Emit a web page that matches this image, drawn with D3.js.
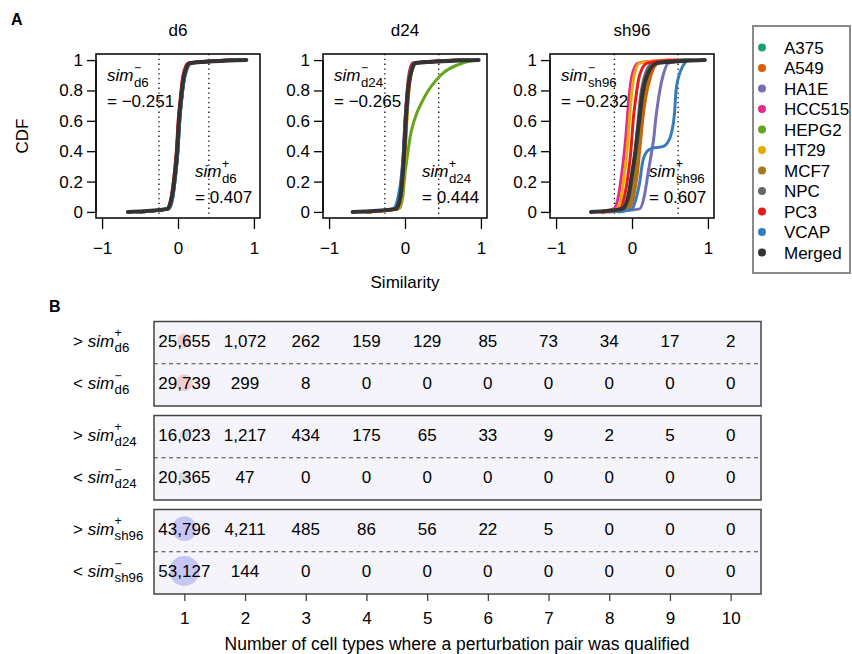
<!DOCTYPE html>
<html>
<head>
<meta charset="utf-8">
<script src="https://cdn.jsdelivr.net/npm/d3@7"></script>
<style>
  body { margin: 0; background: #fff; }
  svg { display: block; font-family: "Liberation Sans", Arial, sans-serif; }
</style>
</head>
<body>
<div id="chart"></div>
<script>
// ---- data ----
const cellTypes = ["A375", "A549", "HA1E", "HCC515", "HEPG2", "HT29", "MCF7", "NPC", "PC3", "VCAP", "Merged"];
const cellColors = ["#1b9e77", "#d95f02", "#7570b3", "#e7298a", "#66a61e", "#e6ab02", "#a6761d", "#666666", "#e41a1c", "#377eb8", "#333333"];

// CDF levels, and the similarity value reached at each level (one row per cell type)
const cdfLevels = [0, 0.02, 0.1, 0.25, 0.4, 0.5, 0.6, 0.75, 0.9, 0.98, 1];

const d6Quantiles = [
  [-0.55, -0.135, -0.075, -0.035, -0.007, 0.005, 0.017, 0.045, 0.085, 0.165, 0.8],
  [-0.5, -0.145, -0.085, -0.045, -0.017, -0.005, 0.007, 0.035, 0.075, 0.15, 0.75],
  [-0.5, -0.13, -0.07, -0.03, -0.002, 0.01, 0.022, 0.05, 0.09, 0.17, 0.8],
  [-0.5, -0.14, -0.08, -0.04, -0.012, 0.0, 0.012, 0.04, 0.08, 0.15, 0.7],
  [-0.5, -0.13, -0.075, -0.035, -0.007, 0.005, 0.017, 0.045, 0.09, 0.17, 0.8],
  [-0.5, -0.135, -0.08, -0.04, -0.012, 0.0, 0.012, 0.04, 0.08, 0.16, 0.8],
  [-0.5, -0.12, -0.07, -0.03, -0.002, 0.01, 0.022, 0.05, 0.09, 0.17, 0.8],
  [-0.55, -0.13, -0.07, -0.03, -0.002, 0.01, 0.023, 0.05, 0.095, 0.18, 0.85],
  [-0.5, -0.15, -0.09, -0.05, -0.022, -0.01, 0.002, 0.03, 0.065, 0.13, 0.7],
  [-0.5, -0.12, -0.065, -0.03, -0.002, 0.01, 0.022, 0.05, 0.09, 0.17, 0.8],
  [-0.66, -0.14, -0.08, -0.04, -0.012, 0.0, 0.012, 0.04, 0.08, 0.16, 0.9]
];

const d24Quantiles = [
  [-0.5, -0.11, -0.055, -0.025, -0.005, 0.005, 0.015, 0.035, 0.07, 0.14, 0.8],
  [-0.5, -0.1, -0.05, -0.02, 0.0, 0.01, 0.02, 0.04, 0.075, 0.14, 0.8],
  [-0.5, -0.11, -0.055, -0.025, -0.005, 0.005, 0.015, 0.035, 0.07, 0.14, 0.8],
  [-0.5, -0.12, -0.065, -0.035, -0.015, -0.005, 0.005, 0.025, 0.06, 0.12, 0.8],
  [-0.5, -0.08, -0.03, 0.0, 0.04, 0.07, 0.12, 0.25, 0.47, 0.76, 0.97],
  [-0.5, -0.09, -0.045, -0.015, 0.005, 0.015, 0.025, 0.045, 0.08, 0.15, 0.8],
  [-0.5, -0.1, -0.05, -0.02, 0.0, 0.01, 0.02, 0.04, 0.075, 0.14, 0.8],
  [-0.55, -0.12, -0.06, -0.03, -0.01, 0.0, 0.012, 0.035, 0.07, 0.14, 0.85],
  [-0.5, -0.12, -0.07, -0.04, -0.02, -0.01, 0.0, 0.02, 0.05, 0.1, 0.7],
  [-0.6, -0.16, -0.09, -0.045, -0.02, -0.01, 0.0, 0.025, 0.06, 0.12, 0.8],
  [-0.69, -0.12, -0.06, -0.03, -0.01, 0.0, 0.01, 0.03, 0.07, 0.14, 0.97]
];

const sh96Quantiles = [
  [-0.4, -0.09, -0.02, 0.03, 0.065, 0.08, 0.1, 0.13, 0.19, 0.29, 0.7],
  [-0.35, -0.05, 0.02, 0.07, 0.1, 0.12, 0.14, 0.18, 0.25, 0.35, 0.75],
  [-0.3, 0.1, 0.16, 0.21, 0.26, 0.29, 0.31, 0.35, 0.41, 0.48, 0.8],
  [-0.45, -0.24, -0.18, -0.135, -0.1, -0.08, -0.065, -0.04, 0.0, 0.08, 0.5],
  [-0.4, -0.08, -0.01, 0.04, 0.075, 0.09, 0.11, 0.14, 0.2, 0.3, 0.7],
  [-0.45, -0.2, -0.14, -0.1, -0.065, -0.05, -0.035, -0.01, 0.03, 0.1, 0.55],
  [-0.4, -0.07, 0.0, 0.05, 0.085, 0.1, 0.12, 0.15, 0.22, 0.32, 0.75],
  [-0.4, -0.11, -0.04, 0.01, 0.045, 0.06, 0.08, 0.11, 0.17, 0.27, 0.7],
  [-0.4, -0.16, -0.1, -0.05, -0.015, 0.0, 0.015, 0.05, 0.1, 0.2, 0.6],
  null, // VCAP has its own levels below
  [-0.54, -0.13, -0.05, 0.0, 0.045, 0.07, 0.095, 0.13, 0.2, 0.33, 0.96]
];

// VCAP at sh96 has a plateau, read with its own levels
const sh96VcapLevels = [0, 0.02, 0.1, 0.19, 0.33, 0.4, 0.42, 0.43, 0.45, 0.52, 0.65, 0.8, 0.9, 0.96, 1];
const sh96VcapX = [-0.17, 0.0, 0.06, 0.1, 0.14, 0.2, 0.27, 0.4, 0.46, 0.52, 0.56, 0.58, 0.62, 0.67, 0.72];

const timepoints = ["d6", "d24", "sh96"];
const simMinus = [-0.251, -0.265, -0.232];
const simPlus = [0.407, 0.444, 0.607];
const cdfTicksX = [-1, 0, 1];
const cdfTicksY = [0, 0.2, 0.4, 0.6, 0.8, 1];

// panel B: number of pairs qualified in n cell types
const nCellTypes = [1, 2, 3, 4, 5, 6, 7, 8, 9, 10];
const d6Above = [25655, 1072, 262, 159, 129, 85, 73, 34, 17, 2];
const d6Below = [29739, 299, 8, 0, 0, 0, 0, 0, 0, 0];
const d24Above = [16023, 1217, 434, 175, 65, 33, 9, 2, 5, 0];
const d24Below = [20365, 47, 0, 0, 0, 0, 0, 0, 0, 0];
const sh96Above = [43796, 4211, 485, 86, 56, 22, 5, 0, 0, 0];
const sh96Below = [53127, 144, 0, 0, 0, 0, 0, 0, 0, 0];
const bubbleColors = ["#f2cccc", "#d9d9dd", "#c6c6f5"];

// ---- drawing ----
const W = 852, H = 654;
const svg = d3.select("#chart").append("svg")
  .attr("width", W).attr("height", H);

// superscript/subscript label like  sim^+_d6
function simLabel(g, x, y, prefix, sign, sub, size) {
  const t = g.append("text").attr("x", x).attr("y", y)
    .style("font-size", size + "px");
  if (prefix) t.append("tspan").text(prefix);
  t.append("tspan").style("font-style", "italic").text("sim");
  const w = t.node().getComputedTextLength();
  g.append("text").attr("x", x + w + 0.5).attr("y", y - size * 0.55)
    .style("font-size", (size * 0.72) + "px").text(sign);
  g.append("text").attr("x", x + w + 0.5).attr("y", y + size * 0.33)
    .style("font-size", (size * 0.78) + "px").text(sub);
}

svg.append("text").attr("x", 11).attr("y", 25)
  .style("font-size", "16px").style("font-weight", "bold").text("A");

const panelLeft = [96, 323, 550];
const panelW = 164;
const panelTop = 54, panelBottom = 218;
const quantileSets = [d6Quantiles, d24Quantiles, sh96Quantiles];

const y = d3.scaleLinear().domain([-0.04, 1.04]).range([panelBottom, panelTop]);

timepoints.forEach((tp, pi) => {
  const left = panelLeft[pi];
  const x = d3.scaleLinear().domain([-1.08, 1.08]).range([left, left + panelW]);
  const g = svg.append("g");

  g.append("text").attr("x", x(0)).attr("y", 36)
    .attr("text-anchor", "middle").style("font-size", "17px").text(tp);

  // y axis
  const ya = g.append("g").attr("transform", `translate(${left},0)`)
    .call(d3.axisLeft(y).tickValues(cdfTicksY).tickFormat(d3.format("~g")).tickSize(9).tickPadding(4));
  ya.select(".domain").attr("d", `M0,${y(0)}V${y(1)}`).attr("stroke-width", 1.3);
  ya.selectAll(".tick line").attr("stroke-width", 1.3);
  ya.selectAll("text").style("font-size", "17px").attr("fill", "#000")
    .style("font-family", "Liberation Sans, Arial, sans-serif");

  // x axis
  const xa = g.append("g").attr("transform", `translate(0,${panelBottom})`)
    .call(d3.axisBottom(x).tickValues(cdfTicksX).tickFormat(d => d < 0 ? "\u2212" + Math.abs(d) : d).tickSize(11).tickPadding(13));
  xa.select(".domain").remove();
  xa.selectAll(".tick line").attr("stroke-width", 1.3);
  xa.selectAll("text").style("font-size", "17px").attr("fill", "#000")
    .style("font-family", "Liberation Sans, Arial, sans-serif");

  // thresholds
  [simMinus[pi], simPlus[pi]].forEach(v => {
    g.append("line").attr("x1", x(v)).attr("x2", x(v))
      .attr("y1", panelTop).attr("y2", panelBottom)
      .attr("stroke", "#000").attr("stroke-width", 1.3).attr("stroke-dasharray", "1.3,3.5");
  });

  // cdf curves
  const line = d3.line().x(d => x(d[0])).y(d => y(d[1])).curve(d3.curveMonotoneX);
  cellTypes.forEach((ct, ci) => {
    let pts;
    if (tp === "sh96" && ct === "VCAP") {
      pts = sh96VcapX.map((v, i) => [v, sh96VcapLevels[i]]);
    } else {
      pts = quantileSets[pi][ci].map((v, i) => [v, cdfLevels[i]]);
    }
    g.append("path").attr("d", line(pts))
      .attr("fill", "none").attr("stroke", cellColors[ci])
      .attr("stroke-width", ct === "Merged" ? 4 : 3)
      .attr("stroke-linecap", "round").attr("stroke-linejoin", "round");
  });

  // box
  g.append("rect").attr("x", left).attr("y", panelTop)
    .attr("width", panelW).attr("height", panelBottom - panelTop)
    .attr("fill", "none").attr("stroke", "#000").attr("stroke-width", 1.5);

  // annotations
  const fmt = d3.format(".3f");
  simLabel(g, left + 11, 81, "", "\u2212", tp, 17);
  g.append("text").attr("x", left + 11).attr("y", 107).style("font-size", "17px")
    .text("= " + fmt(simMinus[pi]).replace("-", "\u2212"));
  simLabel(g, left + panelW - 65, 177, "", "+", tp, 17);
  g.append("text").attr("x", left + panelW - 65).attr("y", 203).style("font-size", "17px")
    .text("= " + fmt(simPlus[pi]));
});

svg.append("text").attr("transform", "translate(28,136) rotate(-90)")
  .attr("text-anchor", "middle").style("font-size", "17px").text("CDF");
svg.append("text").attr("x", 405).attr("y", 288)
  .attr("text-anchor", "middle").style("font-size", "17px").text("Similarity");

// legend
const lg = svg.append("g");
lg.append("rect").attr("x", 753).attr("y", 26).attr("width", 97).attr("height", 247)
  .attr("fill", "#fff").attr("stroke", "#8a8a8a").attr("stroke-width", 2);
const ly = d3.scalePoint().domain(cellTypes).range([47.5, 252.5]);
cellTypes.forEach((ct, i) => {
  lg.append("circle").attr("cx", 762).attr("cy", ly(ct)).attr("r", 4).attr("fill", cellColors[i]);
  lg.append("text").attr("x", 784).attr("y", ly(ct) + 6).style("font-size", "17px").text(ct);
});

// ---- panel B ----
svg.append("text").attr("x", 49).attr("y", 312)
  .style("font-size", "16px").style("font-weight", "bold").text("B");

const tableRows = [[d6Above, d6Below], [d24Above, d24Below], [sh96Above, sh96Below]];
const bx = d3.scaleLinear().domain([0.5, 10.5]).range([154, 761]);
const boxTop = d3.scaleLinear().domain([0, 1]).range([321.5, 415.5]);
const halfH = 42.25;
const maxCount = d3.max(tableRows.flat(2));
const rBubble = d3.scaleLinear().domain([0, maxCount]).range([0, 15]);
const fmtCount = d3.format(",");

tableRows.forEach((pair, gi) => {
  const top = boxTop(gi);
  const g = svg.append("g");
  g.append("rect").attr("x", bx(0.5)).attr("y", top)
    .attr("width", bx(10.5) - bx(0.5)).attr("height", halfH * 2)
    .attr("fill", "#f4f4fa");
  pair.forEach((vals, ri) => {
    const cy = top + halfH * ri + halfH / 2 - 2;
    g.selectAll(null).data(vals).join("circle")
      .attr("cx", (d, i) => bx(nCellTypes[i]))
      .attr("cy", cy)
      .attr("r", d => rBubble(d))
      .attr("fill", bubbleColors[gi]);
    g.selectAll(null).data(vals).join("text")
      .attr("x", (d, i) => bx(nCellTypes[i]))
      .attr("y", cy + 6)
      .attr("text-anchor", "middle")
      .style("font-size", "17px")
      .text(d => fmtCount(d));
    simLabel(g, 73, cy + 6, ri === 0 ? "> " : "< ", ri === 0 ? "+" : "\u2212", timepoints[gi], 17);
  });
  g.append("line").attr("x1", bx(0.5)).attr("x2", bx(10.5))
    .attr("y1", top + halfH).attr("y2", top + halfH)
    .attr("stroke", "#444").attr("stroke-width", 1.2).attr("stroke-dasharray", "4,3.5");
  g.append("rect").attr("x", bx(0.5)).attr("y", top)
    .attr("width", bx(10.5) - bx(0.5)).attr("height", halfH * 2)
    .attr("fill", "none").attr("stroke", "#444").attr("stroke-width", 1.5);
});

const lastBottom = boxTop(2) + halfH * 2;
const ta = svg.append("g").attr("transform", `translate(0,${lastBottom})`)
  .call(d3.axisBottom(bx).tickValues(nCellTypes).tickSize(7).tickPadding(11));
ta.select(".domain").remove();
ta.selectAll(".tick line").attr("stroke", "#444").attr("stroke-width", 1.3);
ta.selectAll("text").style("font-size", "17px").attr("fill", "#000")
  .style("font-family", "Liberation Sans, Arial, sans-serif");

svg.append("text").attr("x", 457).attr("y", 650)
  .attr("text-anchor", "middle").style("font-size", "17.5px")
  .text("Number of cell types where a perturbation pair was qualified");
</script>
</body>
</html>
